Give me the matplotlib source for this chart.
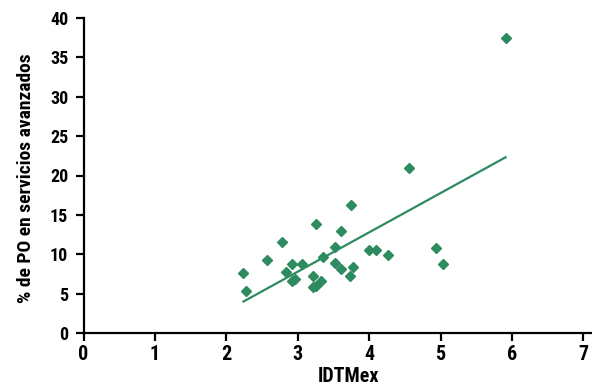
import numpy as np
import matplotlib.pyplot as plt
from matplotlib import font_manager

# IDTMex frente a % de PO en servicios avanzados
idtmex = [2.24, 2.28, 2.57, 2.78, 2.84, 2.92, 2.92, 2.96, 3.06, 3.21,
          3.26, 3.22, 3.26, 3.32, 3.36, 3.52, 3.52, 3.61, 3.61, 3.75,
          3.77, 3.73, 4.00, 4.10, 4.27, 4.93, 5.03, 4.56, 5.91]
po_avanzados = [7.6, 5.3, 9.3, 11.6, 7.8, 8.7, 6.6, 6.8, 8.7, 7.3,
                13.9, 5.8, 6.0, 6.6, 9.6, 10.9, 8.85, 8.1, 12.9, 16.3,
                8.4, 7.2, 10.6, 10.6, 9.9, 10.75, 8.8, 20.95, 37.5]

x_ticks = [0, 1, 2, 3, 4, 5, 6, 7]
y_ticks = [0, 5, 10, 15, 20, 25, 30, 35, 40]

verde = '#2E8B5F'

# fuente estrecha si existe, si no Roboto
nombres = {f.name for f in font_manager.fontManager.ttflist}
fuente = 'Roboto'
for n in ['Roboto Condensed', 'Liberation Sans Narrow', 'Open Sans Condensed']:
    if n in nombres:
        fuente = n
        break
plt.rcParams['font.family'] = [fuente, 'DejaVu Sans']
plt.rcParams['font.weight'] = 'bold'

x = np.array(idtmex)
y = np.array(po_avanzados)

# recta de tendencia (regresion lineal)
coef = np.polyfit(x, y, 1)
xs = np.array([x.min(), x.max()])

fig = plt.figure(figsize=(5.92, 3.91), dpi=100)
ax = fig.add_axes([83.5 / 592, 58 / 391, 1 - 83.5 / 592, (333 - 18) / 391])

ax.plot(xs, np.polyval(coef, xs), color=verde, lw=1.6, zorder=2)
ax.plot(x, y, 'D', color=verde, ms=5, mec=verde, zorder=3)

ax.set_xlim(0, 7.12)
ax.set_ylim(0, 40)
ax.set_xticks(x_ticks)
ax.set_yticks(y_ticks)

for s in ['top', 'right']:
    ax.spines[s].set_visible(False)
for s in ['left', 'bottom']:
    ax.spines[s].set_linewidth(1.6)
ax.tick_params(direction='out', length=6, width=1.6)
ax.tick_params(axis='x', labelsize=14.5, pad=2.5)
ax.tick_params(axis='y', labelsize=13, pad=5)

ax.set_xlabel('IDTMex', fontsize=14.5, fontweight='bold')
ax.set_ylabel('% de PO en servicios avanzados', fontsize=14, fontweight='bold')
ax.xaxis.set_label_coords(0.521, -0.109)
ax.yaxis.set_label_coords(-0.095, 0.492)

fig.savefig('out.png', dpi=100)
